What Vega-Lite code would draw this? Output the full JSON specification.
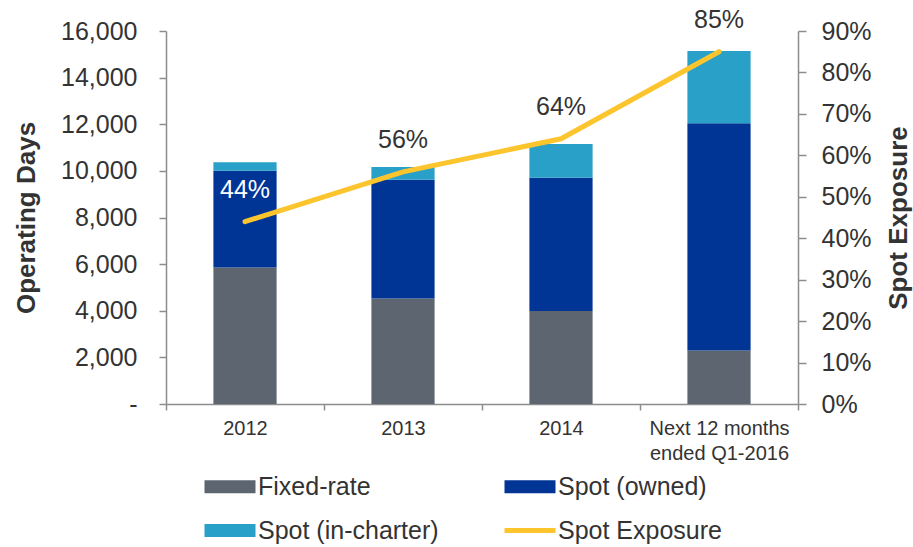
{
  "$schema": "https://vega.github.io/schema/vega-lite/v6.json",
  "width": 632,
  "height": 373,
  "autosize": {"type": "none"},
  "padding": {"left": 166, "top": 31, "right": 115, "bottom": 143},
  "background": "white",
  "config": {
    "view": {"stroke": null},
    "font": "Liberation Sans",
    "axis": {"domain": true, "ticks": true, "domainColor": "#8c8c8c", "tickColor": "#8c8c8c", "labelColor": "#333333", "titleColor": "#333333", "grid": false, "domainWidth": 1.5, "tickWidth": 1.5, "labelFont": "Liberation Sans", "titleFont": "Liberation Sans"},
    "legend": {"labelFont": "Liberation Sans"}
  },
  "layer": [
    {
      "data": {"values": [
        {"period": "2012", "series": "Fixed-rate", "days": 5850},
        {"period": "2012", "series": "Spot (owned)", "days": 4160},
        {"period": "2012", "series": "Spot (in-charter)", "days": 360},
        {"period": "2013", "series": "Fixed-rate", "days": 4530},
        {"period": "2013", "series": "Spot (owned)", "days": 5090},
        {"period": "2013", "series": "Spot (in-charter)", "days": 550},
        {"period": "2014", "series": "Fixed-rate", "days": 3990},
        {"period": "2014", "series": "Spot (owned)", "days": 5720},
        {"period": "2014", "series": "Spot (in-charter)", "days": 1440},
        {"period": "Next 12 months ended Q1-2016", "series": "Fixed-rate", "days": 2290},
        {"period": "Next 12 months ended Q1-2016", "series": "Spot (owned)", "days": 9750},
        {"period": "Next 12 months ended Q1-2016", "series": "Spot (in-charter)", "days": 3100}
      ]},
      "transform": [{"calculate": "indexof(['Fixed-rate','Spot (owned)','Spot (in-charter)'], datum.series)", "as": "stackOrder"}],
      "mark": {"type": "bar", "width": {"band": 0.4}},
      "encoding": {
        "x": {
          "field": "period", "type": "nominal", "sort": null,
          "scale": {"paddingInner": 0, "paddingOuter": 0},
          "axis": {
            "title": null, "labelAngle": 0, "tickBand": "extent", "tickSize": 6, "domain": true, "ticks": true,
            "labelFontSize": 20, "labelPadding": 8, "labelBaseline": "top", "labelLineHeight": 25,
            "labelLimit": 0, "labelOverlap": false,
            "labelExpr": "datum.value == 'Next 12 months ended Q1-2016' ? ['Next 12 months', 'ended Q1-2016'] : datum.value"
          }
        },
        "y": {
          "field": "days", "type": "quantitative", "stack": "zero",
          "scale": {"domain": [0, 16000]},
          "axis": {
            "title": "Operating Days", "titleFontSize": 26, "titleFontWeight": "bold", "titlePadding": 21,
            "values": [0, 2000, 4000, 6000, 8000, 10000, 12000, 14000, 16000],
            "format": ",.0f", "labelExpr": "datum.value === 0 ? '-' : datum.label",
            "domain": true, "ticks": true,
            "labelFontSize": 25, "tickSize": 7, "labelPadding": 22
          }
        },
        "order": {"field": "stackOrder", "type": "quantitative"},
        "color": {
          "field": "series", "type": "nominal",
          "scale": {
            "domain": ["Fixed-rate", "Spot (owned)", "Spot (in-charter)", "Spot Exposure"],
            "range": ["#5d6670", "#003595", "#29a0c8", "#fcc42d"]
          },
          "legend": {
            "title": null, "orient": "none", "legendX": 36, "legendY": 443, "direction": "horizontal",
            "columns": 2, "columnPadding": 63, "rowPadding": 18, "padding": 0,
            "labelFontSize": 25, "labelColor": "#333333", "labelLimit": 0, "labelOffset": 31,
            "symbolSize": 400, "symbolType": "M-1,-0.65H4.1V0.65H-1Z",
            "symbolStrokeWidth": 0,
            "encode": {
              "symbols": {"update": {
                "shape": [{"test": "datum.value === 'Spot Exposure'", "value": "M-1,-0.25H4.1V0.25H-1Z"}, {"value": "M-1,-0.65H4.1V0.65H-1Z"}],
                "fill": {"scale": "color", "field": "value"},
                "strokeWidth": {"value": 0},
                "opacity": {"value": 1}
              }}
            }
          }
        }
      }
    },
    {
      "data": {"values": [
        {"period": "2012", "series": "Spot Exposure", "exposure": 0.44},
        {"period": "2013", "series": "Spot Exposure", "exposure": 0.56},
        {"period": "2014", "series": "Spot Exposure", "exposure": 0.64},
        {"period": "Next 12 months ended Q1-2016", "series": "Spot Exposure", "exposure": 0.85}
      ]},
      "encoding": {
        "x": {"field": "period", "type": "nominal", "sort": null},
        "y": {
          "field": "exposure", "type": "quantitative",
          "scale": {"domain": [0, 0.9]},
          "axis": {
            "orient": "right", "title": "Spot Exposure", "titleFontSize": 26, "titleFontWeight": "bold",
            "titleAngle": 270, "titlePadding": 40, "domain": true, "ticks": true,
            "values": [0, 0.1, 0.2, 0.3, 0.4, 0.5, 0.6, 0.7, 0.8, 0.9],
            "format": ".0%", "labelFontSize": 25, "tickSize": 8, "labelPadding": 15
          }
        }
      },
      "layer": [
        {
          "mark": {"type": "line", "strokeWidth": 5, "strokeCap": "round"},
          "encoding": {"color": {"field": "series", "type": "nominal"}}
        },
        {
          "mark": {"type": "text", "fontSize": 25, "dy": -32, "font": "Liberation Sans"},
          "encoding": {
            "text": {"field": "exposure", "type": "quantitative", "format": ".0%"},
            "color": {"condition": {"test": "datum.period === '2012'", "value": "white"}, "value": "#333333"}
          }
        }
      ]
    }
  ],
  "resolve": {"scale": {"y": "independent"}}
}
